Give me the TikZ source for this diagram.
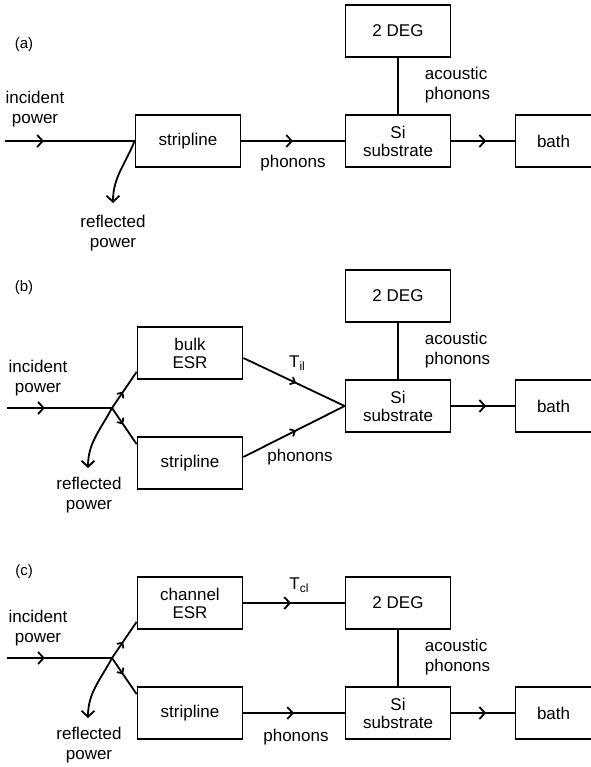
\documentclass[tikz,border=0pt]{standalone}
\usepackage{fontspec}
\setmainfont{Liberation Sans}
\usetikzlibrary{arrows.meta,decorations.markings}

\tikzset{
  box/.style={draw, minimum width=105pt, minimum height=52pt, inner sep=0pt, align=center, font=\fontsize{17}{18}\selectfont},
  lbl/.style={align=center, inner sep=0pt, font=\fontsize{17}{20}\selectfont},
  midarrow/.style={postaction={decorate}, decoration={markings, mark=at position #1 with {\arrow{Straight Barb[length=5.5pt,width=12pt]}}}},
  smallarrow/.style={postaction={decorate}, decoration={markings, mark=at position #1 with {\arrow{Straight Barb[length=4pt,width=8pt]}}}},
  refl/.style={-{Straight Barb[length=6pt,width=13pt]}}
}

\begin{document}
\begin{tikzpicture}[x=1pt, y=-1pt, line width=1.8pt, font=\fontsize{17}{20}\selectfont]
\useasboundingbox (0,0) rectangle (590,767);

% panel letters
\foreach \p/\y in {a/45, b/288, c/572} {
  \node[inner sep=0pt, font=\fontsize{15}{15}\selectfont] (l\p) at (24,\y) {(\p)};
}

% right hand side, the same in all three
\foreach \p/\y in {a/141, b/406, c/713} {
  \node[box] (deg\p) at (398,\y-110) {2 DEG};
  \node[box] (si\p) at (398,\y) {Si\\substrate};
  \node[box, text width=62pt, align=left] (bath\p) at (568,\y) {bath};
  \node[lbl, align=left, anchor=west] (ac\p) at (424,\y-56) {acoustic\\phonons};
  \draw (deg\p) -- (si\p);
  \draw[midarrow=0.55] (si\p) -- (bath\p);
}

% (a)
\node[box] (stripa) at (188,141) {stripline};
\coordinate (ina) at (5,141);
\coordinate (refla) at (113,203);
\node[lbl] (inca) at (35,109) {incident\\power};
\node[lbl] (rpa) at (113,233) {reflected\\power};
\draw[midarrow=0.3] (ina) -- (stripa);
\draw[refl] (stripa.west) to[out=-112,in=90] (refla);
\draw[midarrow=0.5] (stripa) -- (sia);
\node[lbl] (pha) at (293,163) {phonons};

% input side of (b) and (c)
\foreach \p/\y/\t in {b/408/bulk, c/658/channel} {
  \coordinate (j\p) at (112,\y);
  \coordinate (in\p) at (7,\y);
  \coordinate (refl\p) at (88,\y+60);
  \node[box] (esr\p) at (190,\y-55) {\t\\ESR};
  \node[box] (strip\p) at (190,\y+55) {stripline};
  \node[lbl] (inc\p) at (38,\y-30) {incident\\power};
  \node[lbl] (rp\p) at (89,\y+87) {reflected\\power};
  \draw[midarrow=0.36] (in\p) -- (j\p);
  \draw[smallarrow=0.45] (j\p) -- ([yshift=8pt]esr\p.south west);
  \draw[smallarrow=0.45] (j\p) -- ([yshift=-8pt]strip\p.north west);
  \draw[refl] (j\p) to[out=-118,in=90] (refl\p);
}

% (b)
\draw[smallarrow=0.52] ([yshift=-5pt]esrb.east) -- (sib.west);
\draw[smallarrow=0.52] ([yshift=6pt]stripb.east) -- (sib.west);
\node[lbl] (tib) at (297,363) {T\raisebox{-3pt}{\fontsize{12}{12}\selectfont il}};
\node[lbl] (phb) at (300,457) {phonons};

% (c)
\draw[midarrow=0.47] (esrc) -- (degc);
\draw[midarrow=0.5] (stripc) -- (sic);
\node[lbl] (tic) at (299,585) {T\raisebox{-3pt}{\fontsize{12}{12}\selectfont cl}};
\node[lbl] (phc) at (296,737) {phonons};

\end{tikzpicture}
\end{document}
